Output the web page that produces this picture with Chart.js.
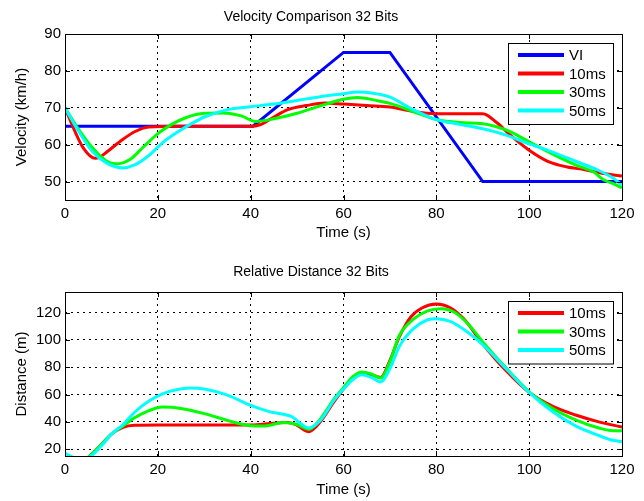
<!DOCTYPE html>
<html>
<head>
<meta charset="utf-8">
<title>Velocity / Relative Distance 32 Bits</title>
<script src="https://cdn.jsdelivr.net/npm/chart.js@4.4.1/dist/chart.umd.min.js"></script>
<style>
  body { margin: 0; background: #fff; }
  canvas { display: block; }
</style>
</head>
<body>
<canvas id="velChart" width="644" height="250"></canvas>
<canvas id="distChart" width="644" height="251"></canvas>
<script>
// Data

// shared x ticks
const timeTicks = [0, 20, 40, 60, 80, 100, 120];

// Velocity Comparison (km/h)
const velTicks = [50, 60, 70, 80, 90];

const tVI = [0, 40.5, 60, 70, 90, 120];
const vVI = [65, 65, 85, 85, 50, 50];

const t10 = [0, 2, 4, 6.5, 7.5, 9, 12, 15, 18, 25, 40, 42, 45, 48, 52, 56, 60, 65, 70, 75, 80, 90, 93, 96, 100, 104, 108, 112, 116, 120];
const v10 = [70, 64, 59, 56.3, 56.6, 58, 61, 63.5, 64.8, 65, 65, 65.4, 67.5, 69.5, 70.6, 71.3, 71, 70.6, 70.2, 69, 68.4, 68.4, 66, 62.5, 58.5, 55.5, 54, 53.2, 52.2, 51.5];

const t30 = [0, 3, 6, 9, 11, 14, 17, 20, 23, 26, 30, 34, 38, 41, 45, 50, 55, 60, 63, 67, 70, 75, 80, 85, 90, 95, 100, 105, 110, 114, 116, 118, 120];
const v30 = [70, 64, 59, 55.5, 54.8, 56, 59.5, 63, 65.5, 67.3, 68.5, 68.6, 67.8, 66.3, 67, 68.5, 70.5, 72.3, 72.8, 72, 71.2, 69, 66.8, 66, 65.7, 64, 60.8, 57.5, 54.5, 52.5, 50.5, 49.5, 48.3];

const t50 = [0, 3, 6, 9, 12.5, 15, 18, 21, 24, 27, 30, 35, 40, 45, 50, 55, 60, 63, 66, 70, 75, 80, 85, 90, 95, 100, 105, 110, 115, 118, 120];
const v50 = [70, 63.5, 58, 55, 53.7, 54.5, 57, 60.5, 63.2, 65.5, 67.5, 69.5, 70.3, 71, 72, 73, 73.8, 74.3, 74, 72.9, 69.5, 66.8, 65.5, 64.3, 62.6, 60.2, 58, 55.5, 53, 51, 49];

// Relative Distance (m)
const distTicks = [20, 40, 60, 80, 100, 120];

const d10t = [0, 3, 5, 8, 10, 12.5, 15, 20, 30, 40, 45, 48, 50, 52.5, 55, 58, 60, 62, 64, 66, 68, 70, 72, 74.5, 77, 80, 83, 86, 90, 95, 100, 105, 110, 115, 120];
const d10v = [10, 10, 14, 24, 31, 36, 37.5, 37.7, 37.7, 37.7, 39, 39.5, 37.5, 32.8, 40, 55, 64, 72, 75.5, 74.5, 72.5, 85, 102, 116.7, 123.5, 126.2, 123.5, 115, 97, 77.5, 61.5, 51.5, 45, 40, 36.2];

const d30t = [0, 3, 5, 8, 10, 12.5, 15, 18, 21, 25, 30, 35, 40, 43, 47, 50, 52.5, 55, 58, 60, 62, 64, 66, 68, 70, 72, 75, 78, 81, 84, 87, 90, 95, 100, 105, 110, 115, 118, 120];
const d30v = [10, 10, 14, 24, 31, 37, 43, 48, 50.8, 49.8, 46, 41, 37.2, 37, 39.5, 38, 34.5, 42, 57, 65, 73, 76.5, 75, 72, 84, 103, 115, 121, 122.8, 120, 111, 98.5, 79.5, 62, 50, 41.5, 35.5, 33.5, 33.5];

const d50t = [0, 2.5, 5, 8, 10, 12.5, 15, 18, 21, 24, 27, 30, 35, 40, 44, 47, 49, 50.5, 52.5, 55, 58, 60, 62, 64, 66, 68, 70, 72, 75, 78, 80, 83, 87, 90, 95, 100, 105, 110, 115, 118, 120];
const d50v = [17, 13.5, 14, 23, 31, 38, 47, 55, 60.5, 63.5, 64.8, 64, 59.5, 52, 47.5, 45.5, 43.5, 39.5, 35.5, 41, 56, 64, 71, 74.5, 72.5, 69.2, 79, 95, 108, 114.5, 115.5, 113.5, 105, 96.5, 79, 61.5, 47.5, 37, 30, 26.5, 25.5];

const FONT = '"Liberation Sans", Arial, sans-serif';

function series(label, xs, ys, color, order, smooth) {
    return {
        label,
        data: xs.map((x, i) => ({ x, y: ys[i] })),
        borderColor: color,
        backgroundColor: color,
        borderWidth: 3,
        pointRadius: 0,
        fill: false,
        order,
        tension: smooth ? 0.4 : 0,
        cubicInterpolationMode: smooth ? 'monotone' : 'default'
    };
}

// axes box with inward tick marks (matlab style)
const boxFrame = {
    id: 'boxFrame',
    afterDatasetsDraw(chart) {
        const { ctx, chartArea: a, scales } = chart;
        ctx.save();
        ctx.strokeStyle = '#000';
        ctx.lineWidth = 1;
        ctx.strokeRect(a.left + 0.5, a.top + 0.5, a.right - a.left, a.bottom - a.top);
        ctx.beginPath();
        scales.x.ticks.forEach(t => {
            const px = Math.round(scales.x.getPixelForValue(t.value)) + 0.5;
            ctx.moveTo(px, a.bottom); ctx.lineTo(px, a.bottom - 5);
            ctx.moveTo(px, a.top); ctx.lineTo(px, a.top + 5);
        });
        scales.y.ticks.forEach(t => {
            const py = Math.round(scales.y.getPixelForValue(t.value)) + 0.5;
            ctx.moveTo(a.left, py); ctx.lineTo(a.left + 5, py);
            ctx.moveTo(a.right, py); ctx.lineTo(a.right - 5, py);
        });
        ctx.stroke();
        ctx.restore();
    }
};

// boxed legend inside the axes, top right
const boxLegend = {
    id: 'boxLegend',
    afterDraw(chart) {
        const { ctx, chartArea: a } = chart;
        const sets = chart.data.datasets;
        const w = 105, rowH = 18.5;
        const h = sets.length * rowH + 7;
        const left = a.right - 114, top = a.top + 9;
        ctx.save();
        ctx.fillStyle = '#fff';
        ctx.fillRect(left, top, w, h);
        ctx.strokeStyle = '#000';
        ctx.lineWidth = 1;
        ctx.strokeRect(left + 0.5, top + 0.5, w, h);
        ctx.font = '15px ' + FONT;
        ctx.textBaseline = 'middle';
        sets.forEach((ds, i) => {
            const y = top + 12 + i * rowH;
            ctx.strokeStyle = ds.borderColor;
            ctx.lineWidth = 4;
            ctx.beginPath();
            ctx.moveTo(left + 10, y);
            ctx.lineTo(left + 56, y);
            ctx.stroke();
            ctx.fillStyle = '#000';
            ctx.fillText(ds.label, left + 61, y + 1);
        });
        ctx.restore();
    }
};

function makeOptions(title, titlePad, yLabel, yMin, yMax, yTicks, xHeight, xTitleBottom) {
    return {
        responsive: false,
        animation: false,
        layout: { padding: { left: 0, right: 22, top: 0, bottom: 0 } },
        plugins: {
            legend: { display: false },
            tooltip: { enabled: false },
            title: {
                display: true,
                text: title,
                color: '#000',
                font: { family: FONT, size: 14, weight: 'normal' },
                padding: titlePad
            }
        },
        scales: {
            x: {
                type: 'linear',
                min: 0,
                max: 120,
                afterBuildTicks: s => { s.ticks = timeTicks.map(v => ({ value: v })); },
                afterFit: s => { s.height = xHeight; },
                grid: { color: '#000', lineWidth: 1, drawTicks: false },
                border: { display: false, dash: [2, 4] },
                ticks: { color: '#000', padding: 5, font: { family: FONT, size: 15 } },
                title: {
                    display: true, text: 'Time (s)', color: '#000',
                    font: { family: FONT, size: 15 },
                    padding: { top: 0, bottom: xTitleBottom }
                }
            },
            y: {
                type: 'linear',
                min: yMin,
                max: yMax,
                afterBuildTicks: s => { s.ticks = yTicks.map(v => ({ value: v })); },
                afterFit: s => { s.width = 65; },
                grid: { color: '#000', lineWidth: 1, drawTicks: false },
                border: { display: false, dash: [2, 4] },
                ticks: { color: '#000', padding: 4, font: { family: FONT, size: 15 } },
                title: {
                    display: true, text: yLabel, color: '#000',
                    font: { family: FONT, size: 15 },
                    padding: { top: 13, bottom: 0 }
                }
            }
        }
    };
}

new Chart(document.getElementById('velChart'), {
    type: 'line',
    data: {
        datasets: [
            series('VI', tVI, vVI, '#0000ff', 4, false),
            series('10ms', t10, v10, '#ff0000', 3, true),
            series('30ms', t30, v30, '#00ff00', 2, true),
            series('50ms', t50, v50, '#00ffff', 1, true)
        ]
    },
    options: makeOptions('Velocity Comparison 32 Bits', { top: 9, bottom: 8.2 },
        'Velocity (km/h)', 45, 90, velTicks, 50, 8),
    plugins: [boxFrame, boxLegend]
});

new Chart(document.getElementById('distChart'), {
    type: 'line',
    data: {
        datasets: [
            series('10ms', d10t, d10v, '#ff0000', 3, true),
            series('30ms', d30t, d30v, '#00ff00', 2, true),
            series('50ms', d50t, d50v, '#00ffff', 1, true)
        ]
    },
    options: makeOptions('Relative Distance 32 Bits', { top: 14, bottom: 11.2 },
        'Distance (m)', 15, 135, distTicks, 45, 2),
    plugins: [boxFrame, boxLegend]
});
</script>
</body>
</html>
